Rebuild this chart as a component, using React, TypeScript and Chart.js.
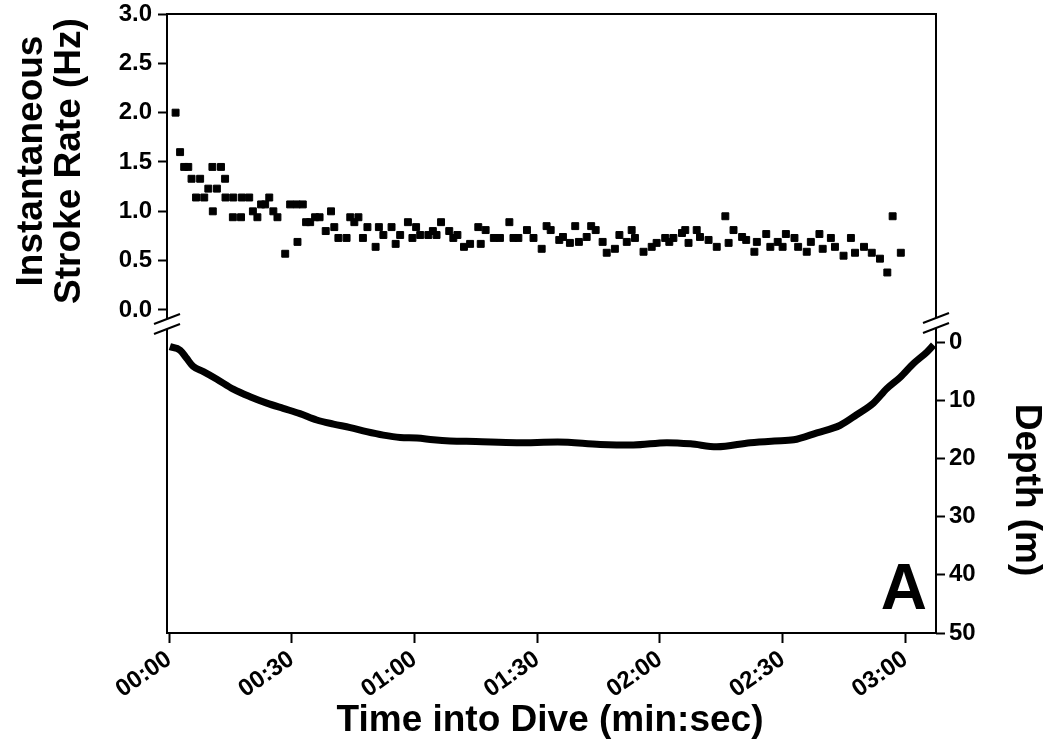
import React, { useEffect, useRef } from "react";
import { Chart, registerables } from "chart.js";

Chart.register(...registerables);

const FONT = '"Liberation Sans", Arial, Helvetica, sans-serif';

// Instantaneous stroke rate (Hz) vs time into dive (s)
const strokeTimes = [
  1.6, 2.7, 3.7, 4.7, 5.5, 6.6, 7.6, 8.6, 9.6, 10.6,
  10.7, 11.7, 12.7, 13.7, 13.8, 15.6, 15.7, 17.6, 17.8, 19.6,
  20.5, 21.6, 22.5, 23.5, 24.5, 25.5, 26.5, 28.4, 29.6, 31.2,
  31.4, 32.7, 33.5, 34.5, 35.7, 36.8, 38.3, 39.6, 40.4, 41.4,
  43.4, 44.3, 45.3, 46.3, 47.4, 48.5, 50.5, 51.3, 52.4, 54.4,
  55.4, 56.5, 58.4, 59.5, 60.4, 61.4, 63.4, 64.5, 65.4, 66.5,
  68.5, 69.5, 70.5, 72.1, 73.6, 75.6, 76.2, 77.4, 79.4, 80.9,
  83.2, 84.2, 85.4, 87.5, 89.1, 91.1, 92.3, 93.3, 95.4, 96.3,
  98.0, 99.3, 100.2, 102.1, 103.2, 104.3, 106.0, 107.0, 109.0, 110.1,
  111.9, 113.1, 113.9, 116.0, 118.0, 119.2, 121.3, 122.3, 123.3, 125.4,
  126.2, 127.0, 129.0, 129.8, 131.9, 133.9, 136.0, 136.8, 138.0, 140.1,
  141.1, 143.1, 143.7, 146.0, 147.0, 148.8, 150.0, 150.8, 152.9, 153.8,
  155.9, 156.9, 159.0, 159.8, 161.8, 162.8, 164.9, 166.7, 167.7, 169.9,
  171.8, 173.8, 175.6, 176.9, 178.9,
];
const strokeRates = [
  2.0, 1.6, 1.45, 1.45, 1.33, 1.14, 1.33, 1.14, 1.23, 1.45,
  1.0, 1.23, 1.45, 1.33, 1.14, 0.94, 1.14, 0.94, 1.14, 1.14,
  1.0, 0.94, 1.07, 1.07, 1.14, 1.0, 0.94, 0.57, 1.07, 1.07,
  0.69, 1.07, 0.89, 0.89, 0.94, 0.94, 0.8, 1.0, 0.84, 0.73,
  0.73, 0.94, 0.89, 0.94, 0.73, 0.84, 0.64, 0.84, 0.76, 0.84,
  0.67, 0.76, 0.89, 0.73, 0.84, 0.76, 0.76, 0.8, 0.76, 0.89,
  0.8, 0.73, 0.76, 0.64, 0.67, 0.84, 0.67, 0.81, 0.73, 0.73,
  0.89, 0.73, 0.73, 0.81, 0.73, 0.62, 0.85, 0.81, 0.71, 0.74,
  0.68, 0.85, 0.69, 0.74, 0.85, 0.81, 0.69, 0.58, 0.62, 0.76,
  0.69, 0.81, 0.73, 0.59, 0.64, 0.68, 0.73, 0.69, 0.73, 0.78,
  0.81, 0.68, 0.81, 0.74, 0.71, 0.64, 0.95, 0.68, 0.81, 0.74,
  0.71, 0.59, 0.69, 0.77, 0.64, 0.69, 0.64, 0.77, 0.73, 0.64,
  0.59, 0.69, 0.77, 0.62, 0.73, 0.64, 0.55, 0.73, 0.58, 0.64,
  0.58, 0.52, 0.38, 0.95, 0.58,
];

// Depth (m) vs time into dive (s)
const depthTimes = [
  0.2, 2.7, 4.3, 5.9, 8.4, 11.7, 15.7, 19.8, 23.9, 27.9,
  32.0, 36.1, 40.2, 44.3, 48.3, 52.4, 56.5, 60.6, 64.6, 68.7,
  75.0, 85.0, 95.0, 105.4, 113.5, 121.7, 127.5, 133.9, 142.1, 148.0,
  152.7, 158.4, 164.1, 168.1, 172.2, 175.5, 178.7, 182.0, 185.3, 186.9,
];
const depths = [
  0.8, 1.4, 2.8, 4.2, 5.1, 6.4, 8.1, 9.4, 10.5, 11.4,
  12.3, 13.4, 14.1, 14.7, 15.4, 16.0, 16.4, 16.5, 16.8, 17.0,
  17.1, 17.3, 17.2, 17.6, 17.7, 17.3, 17.5, 18.0, 17.3, 17.0,
  16.8, 15.6, 14.3, 12.5, 10.5, 8.0, 6.1, 3.7, 1.7, 0.5,
];

const timeTicks = [0, 30, 60, 90, 120, 150, 180];
const rateTicks = [0, 0.5, 1.0, 1.5, 2.0, 2.5, 3.0];
const depthTicks = [0, 10, 20, 30, 40, 50];

const xTitle = "Time into Dive (min:sec)";
const yTitleLines = ["Instantaneous", "Stroke Rate (Hz)"];
const y2Title = "Depth (m)";
const panelLabel = "A";

const fmtTime = (v: number) => {
  const m = Math.floor(v / 60);
  const s = Math.round(v % 60);
  return String(m).padStart(2, "0") + ":" + String(s).padStart(2, "0");
};

export default function App() {
  const ref = useRef<HTMLCanvasElement>(null);

  useEffect(() => {
    const canvas = ref.current!;
    const strokeData = strokeTimes.map((t, i) => ({ x: t, y: strokeRates[i] }));
    const depthData = depthTimes.map((t, i) => ({ x: t, y: depths[i] }));

    const BREAK_A = 319;
    const BREAK_B = 329;

    const decor = {
      id: "decor",
      afterDraw(chart: any) {
        const { ctx, chartArea: a } = chart;
        ctx.save();
        ctx.strokeStyle = "#000";
        ctx.lineWidth = 2;
        ctx.lineCap = "butt";
        const seg = (x1: number, y1: number, x2: number, y2: number) => {
          ctx.beginPath();
          ctx.moveTo(x1, y1);
          ctx.lineTo(x2, y2);
          ctx.stroke();
        };
        // frame
        seg(a.left - 1, a.top, a.right + 1, a.top);
        seg(a.left - 1, a.bottom, a.right + 1, a.bottom);
        seg(a.left, a.top, a.left, BREAK_A);
        seg(a.left, BREAK_B, a.left, a.bottom);
        seg(a.right, a.top, a.right, BREAK_A - 1);
        seg(a.right, BREAK_B - 1, a.right, a.bottom);
        // break marks
        for (const cx of [a.left, a.right]) {
          const off = cx === a.right ? -1 : 0;
          for (const cy of [BREAK_A + off, BREAK_B + off]) {
            seg(cx - 13, cy + 5, cx + 13, cy - 5);
          }
        }
        // titles
        ctx.fillStyle = "#000";
        ctx.font = `bold 37px ${FONT}`;
        ctx.textAlign = "center";
        ctx.textBaseline = "alphabetic";
        ctx.fillText(xTitle, 550, 731);

        ctx.save();
        ctx.translate(42, 161);
        ctx.rotate(-Math.PI / 2);
        ctx.fillText(yTitleLines[0], 0, 0);
        ctx.restore();
        ctx.save();
        ctx.translate(80, 161);
        ctx.rotate(-Math.PI / 2);
        ctx.fillText(yTitleLines[1], 0, 0);
        ctx.restore();

        ctx.save();
        ctx.translate(1016, 490);
        ctx.rotate(Math.PI / 2);
        ctx.fillText(y2Title, 0, 0);
        ctx.restore();

        ctx.font = `bold 64px ${FONT}`;
        ctx.textAlign = "right";
        ctx.fillText(panelLabel, 927, 609);
        ctx.restore();
      },
    };

    const tickFont = { family: FONT, size: 24, weight: "bold" as const };

    const chart = new Chart(canvas, {
      type: "scatter",
      data: {
        datasets: [
          {
            label: "Stroke rate",
            data: strokeData,
            yAxisID: "y",
            pointStyle: "rect",
            pointRadius: 4.9,
            pointBorderWidth: 1,
            backgroundColor: "#000",
            borderColor: "#000",
            showLine: false,
          },
          {
            label: "Depth",
            data: depthData,
            yAxisID: "y2",
            showLine: true,
            pointRadius: 0,
            borderColor: "#000",
            backgroundColor: "#000",
            borderWidth: 7,
            cubicInterpolationMode: "monotone",
          },
        ],
      },
      options: {
        responsive: false,
        animation: false,
        layout: { padding: 0 },
        plugins: { legend: { display: false }, tooltip: { enabled: false } },
        scales: {
          x: {
            type: "linear",
            position: "bottom",
            min: -0.5,
            max: 187.5,
            afterBuildTicks: (s: any) => {
              s.ticks = timeTicks.map((v) => ({ value: v }));
            },
            afterFit: (s: any) => {
              s.height = 113;
              s.paddingLeft = 0;
              s.paddingRight = 0;
            },
            ticks: {
              color: "#000",
              font: tickFont,
              minRotation: 35,
              maxRotation: 35,
              padding: 2,
              callback: (v: any) => fmtTime(Number(v)),
            },
            grid: {
              drawOnChartArea: false,
              drawTicks: true,
              tickLength: 10,
              tickWidth: 2,
              tickColor: "#000",
            },
            border: { display: false },
          },
          y: {
            type: "linear",
            position: "left",
            min: -3.274,
            max: 3.0,
            afterBuildTicks: (s: any) => {
              s.ticks = rateTicks.map((v) => ({ value: v }));
            },
            afterFit: (s: any) => {
              s.width = 167;
              s.paddingTop = 14;
              s.paddingBottom = 0;
            },
            ticks: {
              color: "#000",
              font: tickFont,
              padding: 6,
              callback: (v: any) => Number(v).toFixed(1),
            },
            grid: {
              drawOnChartArea: false,
              drawTicks: true,
              tickLength: 9,
              tickWidth: 2,
              tickColor: "#000",
            },
            border: { display: false },
          },
          y2: {
            type: "linear",
            position: "right",
            reverse: true,
            min: -56.36,
            max: 50,
            afterBuildTicks: (s: any) => {
              s.ticks = depthTicks.map((v) => ({ value: v }));
            },
            afterFit: (s: any) => {
              s.width = 114;
              s.paddingTop = 14;
              s.paddingBottom = 0;
            },
            ticks: {
              color: "#000",
              font: tickFont,
              padding: 4,
              callback: (v: any) => String(v),
            },
            grid: {
              drawOnChartArea: false,
              drawTicks: true,
              tickLength: 9,
              tickWidth: 2,
              tickColor: "#000",
            },
            border: { display: false },
          },
        },
      },
      plugins: [decor],
    } as any);

    return () => chart.destroy();
  }, []);

  return (
    <div
      style={{
        position: "fixed",
        left: 0,
        top: 0,
        width: 1050,
        height: 746,
        background: "#fff",
      }}
    >
      <canvas ref={ref} width={1050} height={746} style={{ width: 1050, height: 746 }} />
    </div>
  );
}
